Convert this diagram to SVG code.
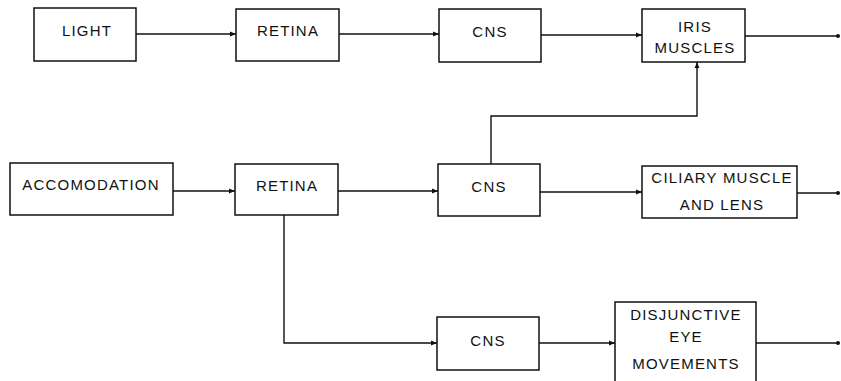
<svg xmlns="http://www.w3.org/2000/svg" width="841" height="381" viewBox="0 0 841 381">
  <style>
    .box { fill: #fff; stroke: #111; stroke-width: 1.5; }
    .lbl { font-family: "Liberation Sans", Arial, sans-serif; font-size: 15px; letter-spacing: 1.2px; fill: #111; text-anchor: middle; }
    .wire { fill: none; stroke: #111; stroke-width: 1.4; }
    .arr { marker-end: url(#head); }
    .out { marker-end: url(#dot); }
  </style>
  <defs>
    <marker id="head" viewBox="0 0 10 10" refX="10" refY="5" markerWidth="7" markerHeight="6" orient="auto" markerUnits="userSpaceOnUse">
      <path d="M0,1 L10,5 L0,9 Z" fill="#111"/>
    </marker>
    <marker id="dot" viewBox="0 0 10 10" refX="5" refY="5" markerWidth="4" markerHeight="4" markerUnits="userSpaceOnUse">
      <circle cx="5" cy="5" r="5" fill="#111"/>
    </marker>
  </defs>

  <g id="connectors">
    <path class="wire arr" d="M136,34 H236"/>
    <path class="wire arr" d="M339,34 H439"/>
    <path class="wire arr" d="M541,35 H642"/>
    <path class="wire out" d="M745,36 H838"/>
    <path class="wire arr" d="M173,191 H235"/>
    <path class="wire arr" d="M338,191 H438"/>
    <path class="wire arr" d="M540,192 H642"/>
    <path class="wire out" d="M797,193 H838"/>
    <path class="wire arr" d="M491,164 V116 H697 V62"/>
    <path class="wire arr" d="M284,215 V343 H437"/>
    <path class="wire arr" d="M539,343 H615"/>
    <path class="wire out" d="M756,343 H838"/>
  </g>

  <g id="light">
    <rect class="box" x="34" y="8" width="102" height="53"/>
    <text class="lbl" x="87" y="36">LIGHT</text>
  </g>
  <g id="retina-top">
    <rect class="box" x="236" y="9" width="103" height="52"/>
    <text class="lbl" x="288" y="36">RETINA</text>
  </g>
  <g id="cns-top">
    <rect class="box" x="439" y="9" width="102" height="53"/>
    <text class="lbl" x="490" y="37">CNS</text>
  </g>
  <g id="iris-muscles">
    <rect class="box" x="642" y="9" width="103" height="53"/>
    <text class="lbl" x="695" y="32">IRIS</text>
    <text class="lbl" x="695" y="53">MUSCLES</text>
  </g>

  <g id="accomodation">
    <rect class="box" x="10" y="163" width="163" height="52"/>
    <text class="lbl" x="91" y="190">ACCOMODATION</text>
  </g>
  <g id="retina-mid">
    <rect class="box" x="235" y="164" width="103" height="51"/>
    <text class="lbl" x="287" y="191">RETINA</text>
  </g>
  <g id="cns-mid">
    <rect class="box" x="438" y="164" width="102" height="52"/>
    <text class="lbl" x="489" y="192">CNS</text>
  </g>
  <g id="ciliary-muscle">
    <rect class="box" x="642" y="166" width="155" height="52"/>
    <text class="lbl" x="722" y="183">CILIARY MUSCLE</text>
    <text class="lbl" x="722" y="210">AND LENS</text>
  </g>

  <g id="cns-bottom">
    <rect class="box" x="437" y="317" width="102" height="53"/>
    <text class="lbl" x="488" y="346">CNS</text>
  </g>
  <g id="disjunctive">
    <rect class="box" x="615" y="302" width="141" height="90"/>
    <text class="lbl" x="686" y="320">DISJUNCTIVE</text>
    <text class="lbl" x="686" y="342">EYE</text>
    <text class="lbl" x="686" y="369">MOVEMENTS</text>
  </g>
</svg>
